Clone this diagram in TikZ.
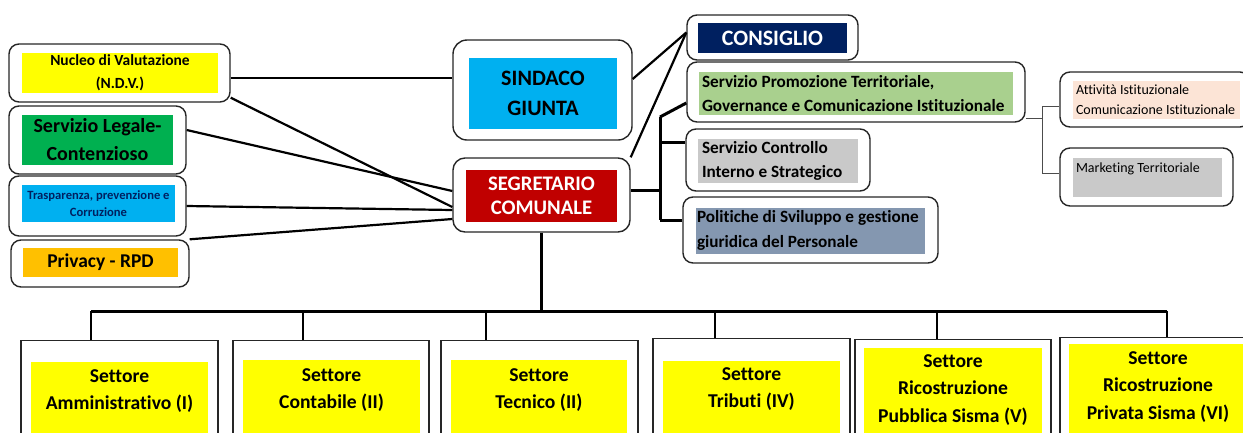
\documentclass[tikz,border=0pt]{standalone}
\usepackage{fontspec}
\setmainfont{Carlito}[Ligatures=CommonOff]

\definecolor{ndvyellow}{HTML}{FFFF00}
\definecolor{legalgreen}{HTML}{00B050}
\definecolor{skyblue}{HTML}{00B0F0}
\definecolor{privorange}{HTML}{FFC000}
\definecolor{segred}{HTML}{C00000}
\definecolor{navy}{HTML}{002060}
\definecolor{promgreen}{HTML}{A9D08E}
\definecolor{lightgray}{HTML}{C9C9C9}
\definecolor{slate}{HTML}{8497B0}
\definecolor{peach}{HTML}{FCE4D6}

\newcommand{\fs}[2]{\fontsize{#1}{#2}\selectfont}

\begin{document}
\begin{tikzpicture}[
    x=1pt, y=-1pt,
    outer/.style={draw=black!85, line width=1.4pt, rounded corners=10pt, fill=white, inner sep=0pt},
    sector/.style={draw=black!85, line width=1.2pt, fill=white, anchor=north, inner sep=0pt, minimum height=140pt},
    inner/.style={inner sep=0pt, align=center, font=\bfseries},
    leftinner/.style={inner xsep=3pt, inner ysep=0pt, align=flush left, text width=#1},
    secinner/.style={inner sep=0pt, align=center, anchor=north,
        fill=ndvyellow, text height=#1, text depth=100pt, font=\fs{19.6}{27.5}\bfseries},
    link/.style={line width=2.2pt},
    bus/.style={line width=3pt},
    thin/.style={line width=0.9pt, draw=black!70}
]
\useasboundingbox (0,0) rectangle (1243,432);

% ---------------- Left column ----------------
\node[outer, minimum width=221pt, minimum height=58pt] (ndv) at (119.5,73) {};
\node[inner, fill=ndvyellow, minimum width=196pt, minimum height=40pt, font=\fs{15.5}{23}\bfseries] (ndvt) at (120,73) {Nucleo di Valutazione\\(N.D.V.)};

\node[outer, minimum width=177pt, minimum height=68pt] (leg) at (97.5,140) {};
\node[inner, fill=legalgreen, minimum width=151pt, minimum height=50pt, font=\fs{20}{28}\bfseries] (legt) at (97.5,140) {Servizio Legale-\\Contenzioso};

\node[outer, minimum width=177pt, minimum height=60pt] (tra) at (97.5,206) {};
\node[inner, fill=skyblue, text=navy, minimum width=153pt, minimum height=37pt, font=\fs{12.6}{17}\bfseries] (trat) at (98.5,203.5) {Trasparenza, prevenzione e\\Corruzione};

\node[outer, minimum width=178pt, minimum height=47pt] (pri) at (100,263.5) {};
\node[inner, fill=privorange, minimum width=155pt, minimum height=29pt, font=\fs{19.5}{28}\bfseries] (prit) at (100.5,262.5) {Privacy - RPD};

% ---------------- Centre ----------------
\node[outer, rounded corners=14pt, minimum width=179pt, minimum height=100pt] (sin) at (542.5,90) {};
\node[inner, fill=skyblue, minimum width=148pt, minimum height=71pt, font=\fs{22}{30}\bfseries] (sint) at (543,93) {SINDACO\\GIUNTA};

\node[outer, rounded corners=12pt, minimum width=177pt, minimum height=74pt] (seg) at (541.5,195) {};
\node[inner, fill=segred, text=white, minimum width=151pt, minimum height=52pt, font=\fs{20.7}{24}\bfseries] (segt) at (541.5,196) {SEGRETARIO\\COMUNALE};

% ---------------- Right column ----------------
\node[outer, minimum width=171pt, minimum height=45pt] (con) at (772.5,37.5) {};
\node[inner, fill=navy, text=white, minimum width=149pt, minimum height=30pt, font=\fs{22}{24}\bfseries] (cont) at (772.5,38) {CONSIGLIO};

\node[outer, minimum width=338pt, minimum height=60pt] (pro) at (856,92) {};
\node[inner, leftinner=308pt, fill=promgreen, minimum height=43pt, font=\fs{17.2}{24.5}\bfseries] (prot) at (856,93.5) {Servizio Promozione Territoriale,\\Governance e Comunicazione Istituzionale};

\node[outer, minimum width=184pt, minimum height=62pt] (ctl) at (778,160) {};
\node[inner, leftinner=152pt, inner xsep=4pt, fill=lightgray, minimum height=44pt, font=\fs{17.2}{24.5}\bfseries] (ctlt) at (778,161) {Servizio Controllo\\Interno e Strategico};

\node[outer, minimum width=255pt, minimum height=66pt] (pol) at (810.5,230) {};
\node[inner, leftinner=227pt, inner xsep=1pt, fill=slate, minimum height=46pt, font=\fs{17.2}{24.5}\bfseries] (polt) at (810.5,230.5) {Politiche di Sviluppo e gestione\\giuridica del Personale};

\node[outer, minimum width=190pt, minimum height=55pt] (att) at (1155,99.5) {};
\node[inner, leftinner=161pt, fill=peach, minimum height=38pt, font=\fs{14}{20}] (attt) at (1156.5,99.5) {Attività Istituzionale\\Comunicazione Istituzionale};

\node[outer, minimum width=173pt, minimum height=58pt] (mkt) at (1146.5,177) {};
\node[inner, leftinner=143pt, anchor=north, fill=lightgray, text height=14.5pt, text depth=24.5pt, font=\fs{14}{20}] (mktt) at (1147.5,158) {Marketing Territoriale};

% ---------------- Sectors ----------------
\node[sector, minimum width=197pt] (s1) at (119.5,340) {};
\node[secinner=47.7pt, minimum width=177pt] (s1t) at (119.5,362) {Settore\\Amministrativo (I)};
\node[sector, minimum width=196pt] (s2) at (331,340) {};
\node[secinner=48.7pt, minimum width=177pt] (s2t) at (331.5,360) {Settore\\Contabile (II)};
\node[sector, minimum width=197pt] (s3) at (539.5,340) {};
\node[secinner=48.7pt, minimum width=176pt] (s3t) at (539,360) {Settore\\Tecnico (II)};
\node[sector, minimum width=197pt] (s4) at (751.5,338) {};
\node[secinner=46.7pt, minimum width=177pt] (s4t) at (751.5,361) {Settore\\Tributi (IV)};
\node[sector, minimum width=196pt] (s5) at (953,339) {};
\node[secinner=74.2pt, minimum width=178pt] (s5t) at (953,348) {Settore\\Ricostruzione\\Pubblica Sisma (V)};
\node[sector, minimum width=196pt] (s6) at (1158,337) {};
\node[secinner=75.2pt, minimum width=178pt] (s6t) at (1158,344) {Settore\\Ricostruzione\\Privata Sisma (VI)};

% ---------------- Connectors ----------------
% staff units
\draw[link] ([yshift=-5pt]ndv.east) -- ([yshift=-5pt]ndv.east -| sin.west);
\draw[link] ([yshift=5pt]ndv.south east) -- ([yshift=-12pt]seg.west);
\draw[link] ([yshift=10pt]leg.east) -- ([yshift=4pt]seg.west);
\draw[link] (tra.east) -- ([yshift=-15pt]seg.west);
\draw[link] (pri.north east) -- ([yshift=-24pt]seg.west);

% council
\draw[link] ([yshift=11pt]sin.east) -- ([yshift=5pt]con.west);
\draw[link] (seg.north east) -- ([yshift=5pt]con.west);

% services
\coordinate (jt) at (660,117);
\coordinate (jb) at (660,220);
\draw[bus] ([yshift=5pt]seg.east) -- ([yshift=5pt]seg.east -| jt);
\draw[bus] (jt) -- (jb);
\draw[bus] (jt) -- ([yshift=-11pt]pro.west);
\draw[bus] ([yshift=18pt]ctl.west -| jt) -- ([yshift=18pt]ctl.west);
\draw[bus] (jb) -- (jb -| pol.west);

% promotion offices
\coordinate (kt) at (1042,106);
\coordinate (kb) at (1042,173);
\draw[thin] ([yshift=4pt]pro.south east) -- ([yshift=4pt]pro.south east -| kt);
\draw[thin] (kt) -- (kb);
\draw[thin] (kt) -- (kt -| att.west);
\draw[thin] (kb) -- (kb -| mkt.west);

% sectors
\coordinate (d1) at (91,311);
\coordinate (d2) at (303,311);
\coordinate (d3) at (486,311);
\coordinate (d4) at (715,311);
\coordinate (d5) at (937,311);
\coordinate (d6) at (1167,311);
\draw[link] (seg.south) -- (seg.south |- d1);
\draw[bus] (d1) -- (d6);
\foreach \i in {1,...,6}
  \draw[link] (d\i) -- (d\i |- s\i.north);

\end{tikzpicture}
\end{document}
